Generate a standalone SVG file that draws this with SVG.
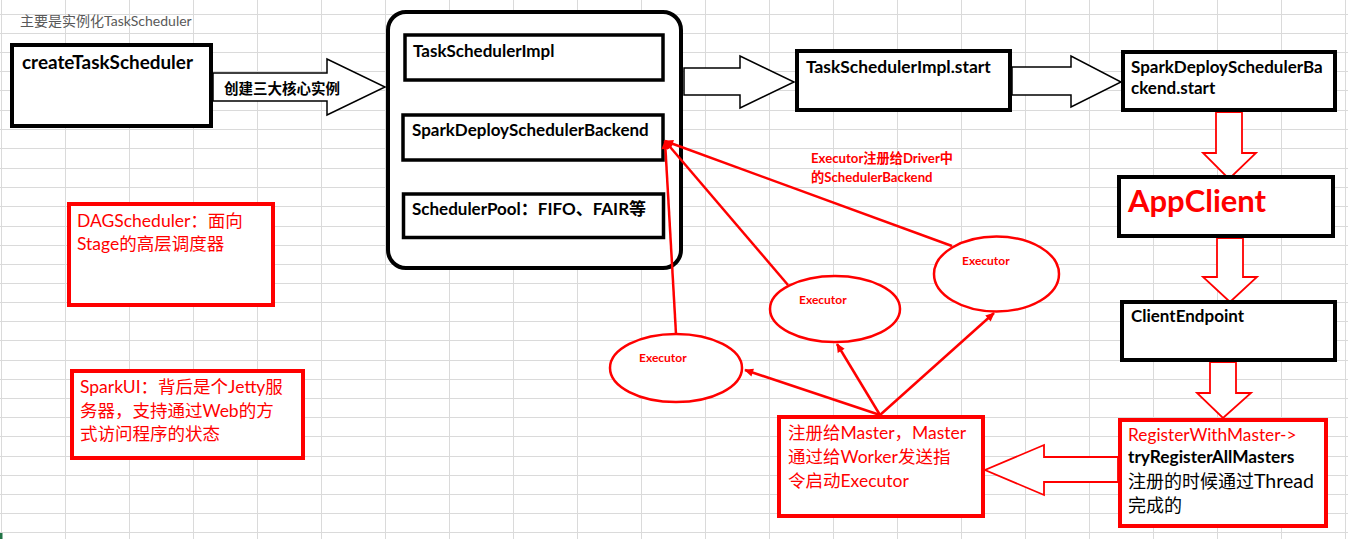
<svg xmlns="http://www.w3.org/2000/svg" width="1348" height="539" viewBox="0 0 1348 539">
<style>
text{font-family:Lato,"Noto Sans CJK SC",sans-serif}
.grid{stroke:#dadada;stroke-width:1;fill:none}
.bx{fill:#fff;stroke:#000;stroke-width:4}
.bx3{fill:#fff;stroke:#000;stroke-width:3.5}
.rbx{fill:#fff;stroke:#f00;stroke-width:4}
.blk{fill:#fff;stroke:#000;stroke-width:1.5}
.rblk{fill:#fff;stroke:#f00;stroke-width:1.8}
.ell{fill:#fff;stroke:#f00;stroke-width:2.5}
.ln{stroke:#f00;stroke-width:2.5;fill:none;marker-end:url(#ah)}
.lb{font-weight:bold;fill:#000;font-size:17px}
.rt{fill:#f00;font-size:17.5px}
.ex{fill:#f00;font-weight:bold;font-size:12px}
</style>
<defs>
<marker id="ah" viewBox="0 0 10 10" refX="9" refY="5" markerWidth="10" markerHeight="9" markerUnits="userSpaceOnUse" orient="auto"><path d="M0,0.5 L10,5 L0,9.5 z" fill="#f00"/></marker>
</defs>
<rect width="1348" height="539" fill="#fff"/>
<path class="grid" d="M1.5,0V539M65.5,0V539M129.5,0V539M193.5,0V539M257.5,0V539M321.5,0V539M385.5,0V539M449.5,0V539M513.5,0V539M577.5,0V539M641.5,0V539M705.5,0V539M769.5,0V539M833.5,0V539M897.5,0V539M961.5,0V539M1025.5,0V539M1089.5,0V539M1153.5,0V539M1217.5,0V539M1281.5,0V539M1345.5,0V539
M0,14.5H1348M0,33.5H1348M0,52.5H1348M0,71.5H1348M0,90.5H1348M0,110.5H1348M0,129.5H1348M0,148.5H1348M0,168.5H1348M0,187.5H1348M0,206.5H1348M0,226.5H1348M0,245.5H1348M0,264.5H1348M0,283.5H1348M0,302.5H1348M0,321.5H1348M0,340.5H1348M0,360.5H1348M0,379.5H1348M0,398.5H1348M0,417.5H1348M0,436.5H1348M0,456.5H1348M0,475.5H1348M0,494.5H1348M0,513.5H1348M0,532.5H1348"/>
<rect x="0" y="533" width="2.5" height="6" fill="#217346"/>

<text x="20" y="26" font-size="14" fill="#595959">主要是实例化TaskScheduler</text>

<g id="arrows">
<polygon class="blk" points="213,73 327,73 327,59 385,87 327,115 327,101 213,101"/>
<polygon class="blk" points="684,68 740,68 740,56 794,82 740,108 740,95 684,95"/>
<polygon class="blk" points="1012,67 1071,67 1071,56 1121,82 1071,107 1071,95 1012,95"/>
<polygon class="rblk" points="1216,112 1242,112 1242,153 1256,153 1229,179 1203,153 1216,153"/>
<polygon class="rblk" points="1217,238 1243,238 1243,277 1257,277 1230,302 1203,277 1217,277"/>
<polygon class="rblk" points="1210,362 1236,362 1236,393 1251,393 1223,418 1197,393 1210,393"/>
<polygon class="rblk" points="1118,457 1044,457 1044,445 985,470 1044,495 1044,482 1118,482"/>
<text x="224" y="94" font-size="14.5" font-weight="bold" fill="#000">创建三大核心实例</text>
</g>

<g id="createTaskScheduler">
<rect class="bx" x="12" y="45" width="199" height="81"/>
<text class="lb" x="22" y="69" style="font-size:18.9px">createTaskScheduler</text>
</g>

<g id="group">
<rect class="bx" x="388" y="12" width="293" height="256" rx="18"/>
</g>
<g id="TaskSchedulerImpl">
<rect class="bx3" x="405" y="35" width="258" height="45"/>
<text class="lb" x="413" y="57">TaskSchedulerImpl</text>
</g>
<g id="SparkDeploySchedulerBackend">
<rect class="bx3" x="403" y="115" width="260" height="45"/>
<text class="lb" x="412" y="136">SparkDeploySchedulerBackend</text>
</g>
<g id="SchedulerPool">
<rect class="bx3" x="403.5" y="194" width="260" height="43.5"/>
<text class="lb" x="412" y="215">SchedulerPool：FIFO、FAIR等</text>
</g>

<g id="TaskSchedulerImplStart">
<rect class="bx" x="797" y="51" width="213" height="59"/>
<text class="lb" x="806" y="73" style="font-size:17.4px">TaskSchedulerImpl.start</text>
</g>
<g id="SparkDeploySchedulerBackendStart">
<rect class="bx" x="1123" y="52" width="212" height="58"/>
<text class="lb" x="1131" y="73">SparkDeploySchedulerBa</text>
<text class="lb" x="1131" y="94">ckend.start</text>
</g>
<g id="AppClient">
<rect class="bx" x="1119" y="177" width="214" height="59"/>
<text x="1128" y="212" font-size="31" font-weight="bold" fill="#f00">AppClient</text>
</g>
<g id="ClientEndpoint">
<rect class="bx" x="1122" y="302" width="213" height="58"/>
<text class="lb" x="1131" y="322">ClientEndpoint</text>
</g>
<g id="RegisterWithMaster">
<rect class="rbx" x="1120" y="420" width="206" height="106"/>
<text x="1128" y="441" font-size="17.3" fill="#f00">RegisterWithMaster-&gt;</text>
<text x="1128" y="463" font-size="17.3" font-weight="bold" fill="#000">tryRegisterAllMasters</text>
<text x="1128" y="488" font-size="18" fill="#000">注册的时候通过<tspan font-size="19.5">Thread</tspan></text>
<text x="1128" y="512" font-size="18" fill="#000">完成的</text>
</g>
<g id="RegisterMaster">
<rect class="rbx" x="779" y="417" width="204" height="99"/>
<text class="rt" x="788" y="439">注册给Master，Master</text>
<text class="rt" x="788" y="463">通过给Worker发送指</text>
<text class="rt" x="788" y="487">令启动Executor</text>
</g>
<g id="DAGScheduler">
<rect class="rbx" x="69" y="204" width="204" height="101"/>
<text class="rt" x="77" y="227">DAGScheduler：面向</text>
<text class="rt" x="77" y="250">Stage的高层调度器</text>
</g>
<g id="SparkUI">
<rect class="rbx" x="72" y="371" width="231" height="87"/>
<text class="rt" x="80" y="393">SparkUI：背后是个Jetty服</text>
<text class="rt" x="80" y="417">务器，支持通过Web的方</text>
<text class="rt" x="80" y="440">式访问程序的状态</text>
</g>

<g id="Executor1">
<ellipse class="ell" cx="676" cy="368" rx="66" ry="34"/>
<text class="ex" x="639" y="362">Executor</text>
</g>
<g id="Executor2">
<ellipse class="ell" cx="835" cy="309" rx="65" ry="33"/>
<text class="ex" x="799" y="304">Executor</text>
</g>
<g id="Executor3">
<ellipse class="ell" cx="996.5" cy="274" rx="62.5" ry="37.5"/>
<text class="ex" x="962" y="265">Executor</text>
</g>

<g id="connectors">
<path class="ln" d="M676,334 L665,141"/>
<path class="ln" d="M788,285 L665,141"/>
<path class="ln" d="M952,246 L665,141"/>
<path class="ln" d="M880,415 L745,370"/>
<path class="ln" d="M880,415 L837,344"/>
<path class="ln" d="M880,415 L994,313"/>
<text x="811" y="163" font-size="13.2" font-weight="bold" fill="#f00">Executor注册给Driver中</text>
<text x="811" y="182" font-size="13.2" font-weight="bold" fill="#f00">的SchedulerBackend</text>
</g>
</svg>
